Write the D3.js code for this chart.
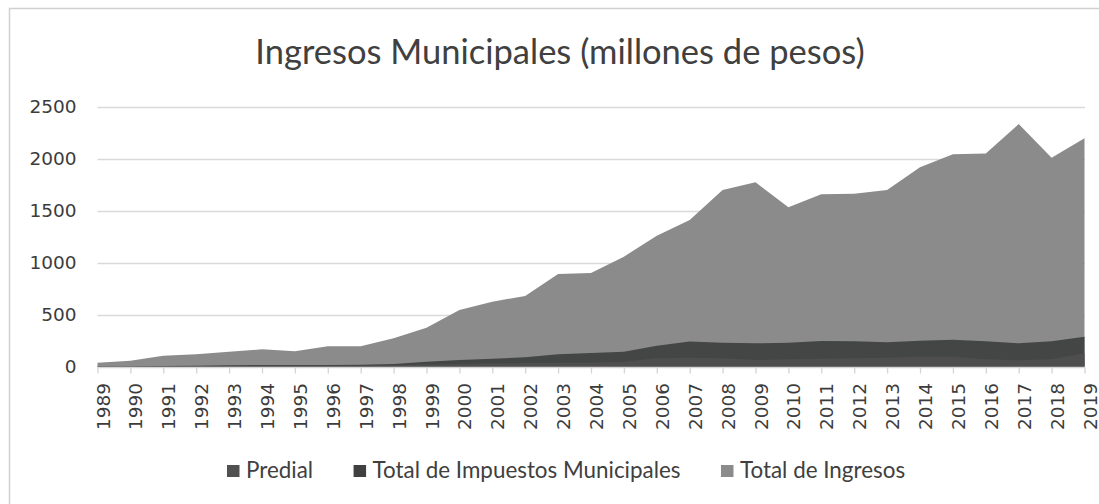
<!DOCTYPE html>
<html>
<head>
<meta charset="utf-8">
<script src="https://cdn.jsdelivr.net/npm/d3@7"></script>
<style>
  body { margin: 0; background: #ffffff; }
  svg { display: block; }
</style>
</head>
<body>
<svg id="chart" width="1099" height="504"></svg>
<script>
// Municipal revenue, millions of pesos
const years = ["1989","1990","1991","1992","1993","1994","1995","1996","1997","1998",
               "1999","2000","2001","2002","2003","2004","2005","2006","2007","2008",
               "2009","2010","2011","2012","2013","2014","2015","2016","2017","2018","2019"];
const predial = [2, 3, 5, 7, 9, 11, 11, 12, 13, 20,
                 24, 30, 35, 38, 41, 42, 51, 85, 88, 83,
                 67, 74, 80, 83, 90, 99, 99, 74, 64, 74, 132];
const impuestos = [4, 6, 10, 13, 16, 20, 19, 20, 22, 29,
                   51, 67, 80, 93, 122, 135, 147, 205, 244, 232,
                   228, 234, 250, 247, 237, 253, 263, 247, 228, 247, 291];
const ingresos = [40, 60, 109, 122, 147, 170, 151, 199, 199, 276,
                  378, 548, 628, 683, 894, 904, 1061, 1263, 1413, 1702,
                  1776, 1535, 1660, 1667, 1702, 1920, 2045, 2054, 2336, 2013, 2199];
const yTicks = [0, 500, 1000, 1500, 2000, 2500];
const seriesNames = ["Predial", "Total de Impuestos Municipales", "Total de Ingresos"];
const chartTitle = "Ingresos Municipales (millones de pesos)";

const colors = {
  "Predial": "#4e4e4e",
  "Total de Impuestos Municipales": "#444646",
  "Total de Ingresos": "#8b8b8b"
};
const legendColors = {
  "Predial": "#505050",
  "Total de Impuestos Municipales": "#404040",
  "Total de Ingresos": "#8b8b8b"
};

const svg = d3.select("#chart");
const W = 1099, H = 504;

// chart frame
svg.append("rect")
  .attr("x", 9.5).attr("y", 8.5)
  .attr("width", W + 20).attr("height", H + 20)
  .attr("fill", "#ffffff")
  .attr("stroke", "#d0d0d0")
  .attr("stroke-width", 1.5);

const plot = { left: 97.5, right: 1084.5, top: 107, bottom: 367 };

const x = d3.scalePoint().domain(years).range([plot.left, plot.right]);
const y = d3.scaleLinear().domain([0, 2500]).range([plot.bottom, plot.top]);

// title
svg.append("text")
  .attr("x", 560).attr("y", 64)
  .attr("text-anchor", "middle")
  .attr("font-family", "Lato, 'Open Sans', sans-serif")
  .attr("font-size", 34.5)
  .attr("fill", "#404040")
  .text(chartTitle);

// horizontal gridlines
svg.append("g")
  .selectAll("line")
  .data(yTicks.filter(d => d > 0))
  .join("line")
  .attr("x1", plot.left).attr("x2", plot.right + 0.5)
  .attr("y1", d => Math.round(y(d)) + 0.5)
  .attr("y2", d => Math.round(y(d)) + 0.5)
  .attr("stroke", "#d9d9d9")
  .attr("stroke-width", 1.3);

// areas: largest series behind, smaller ones in front
const layers = [
  { name: "Total de Ingresos", values: ingresos },
  { name: "Total de Impuestos Municipales", values: impuestos },
  { name: "Predial", values: predial }
];
const area = d3.area()
  .x((d, i) => x(years[i]))
  .y0(y(0))
  .y1(d => y(d));

svg.append("g")
  .selectAll("path")
  .data(layers)
  .join("path")
  .attr("d", d => area(d.values))
  .attr("fill", d => colors[d.name]);

// y axis labels
const yAxis = d3.axisLeft(y).tickValues(yTicks).tickFormat(d3.format("d"))
  .tickSize(0).tickPadding(21);
const gy = svg.append("g")
  .attr("transform", `translate(${plot.left},0)`)
  .call(yAxis);
gy.select(".domain").remove();
gy.selectAll("text")
  .attr("font-family", "'DejaVu Sans', sans-serif")
  .attr("font-size", 18.5)
  .attr("fill", "#3c3c3c");

// x axis with rotated year labels
const xAxis = d3.axisBottom(x).tickSize(6).tickPadding(0);
const gx = svg.append("g")
  .attr("transform", `translate(0,${plot.bottom + 0.5})`)
  .call(xAxis);
gx.select(".domain")
  .attr("stroke", "#d4d4d4")
  .attr("stroke-width", 1.3)
  .attr("d", `M${plot.left},0H${plot.right + 0.5}`);
gx.selectAll(".tick line")
  .attr("stroke", "#d4d4d4")
  .attr("stroke-width", 1.3);
gx.selectAll("text")
  .attr("font-family", "'DejaVu Sans', sans-serif")
  .attr("font-size", 18.5)
  .attr("fill", "#3c3c3c")
  .attr("text-anchor", "end")
  .attr("dy", null)
  .attr("transform", "translate(5.5,15.5) rotate(-90)");

// legend
const legend = svg.append("g").attr("transform", "translate(227,0)");
let offset = 0;
seriesNames.forEach(name => {
  const item = legend.append("g").attr("transform", `translate(${offset},0)`);
  item.append("rect")
    .attr("x", 0).attr("y", 465)
    .attr("width", 12.5).attr("height", 12)
    .attr("fill", legendColors[name]);
  const t = item.append("text")
    .attr("x", 19).attr("y", 478)
    .attr("font-family", "Lato, 'Open Sans', sans-serif")
    .attr("font-size", 22.4)
    .attr("fill", "#404040")
    .text(name);
  offset += 19 + t.node().getComputedTextLength() + 40.5;
});
</script>
</body>
</html>
